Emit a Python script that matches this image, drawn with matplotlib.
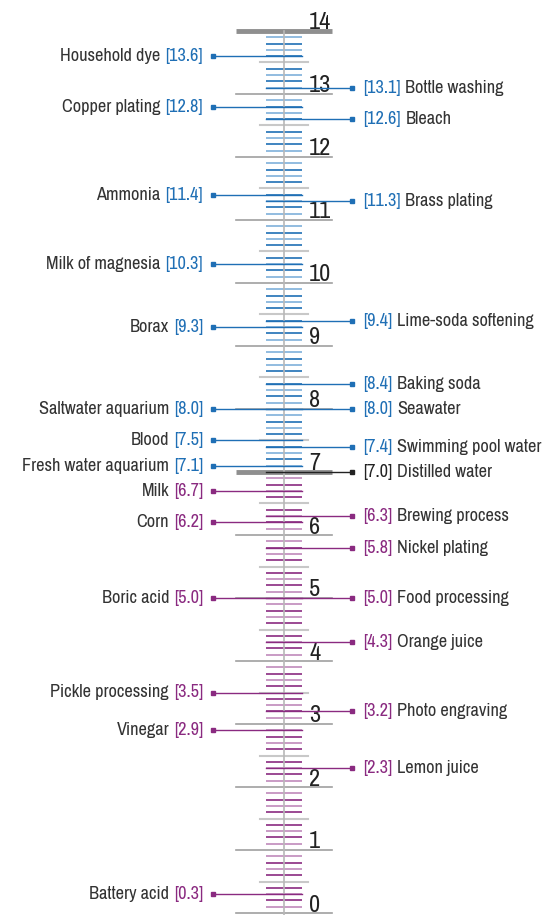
import numpy as np
from matplotlib import pyplot as plt
from matplotlib import font_manager as fm

# pH values
left_names = ["Household dye", "Copper plating", "Ammonia", "Milk of magnesia", "Borax",
              "Saltwater aquarium", "Blood", "Fresh water aquarium", "Milk", "Corn",
              "Boric acid", "Pickle processing", "Vinegar", "Battery acid"]
left_ph = [13.6, 12.8, 11.4, 10.3, 9.3, 8.0, 7.5, 7.1, 6.7, 6.2, 5.0, 3.5, 2.9, 0.3]

right_names = ["Bottle washing", "Bleach", "Brass plating", "Lime-soda softening", "Baking soda",
               "Seawater", "Swimming pool water", "Distilled water", "Brewing process",
               "Nickel plating", "Food processing", "Orange juice", "Photo engraving", "Lemon juice"]
right_ph = [13.1, 12.6, 11.3, 9.4, 8.4, 8.0, 7.4, 7.0, 6.3, 5.8, 5.0, 4.3, 3.2, 2.3]

scale_ticks = np.arange(0, 15)

BLUE = "#1f6fb5"
BLUE_L = "#7fb0da"
PURPLE = "#8a2a80"
PURPLE_L = "#c08abb"
DARK = "#222222"
TXT = "#333333"


def pick_font():
    # look for a narrow face, the reference uses a condensed sans
    for f in fm.fontManager.ttflist:
        if "Narrow" in f.name or "Condensed" in f.name:
            return dict(family=[f.name, "DejaVu Sans"], stretch=f.stretch), 1.0
    for f in fm.fontManager.ttflist:
        if str(f.stretch) in ("condensed", "semi-condensed", "extra-condensed") and f.style == "normal":
            return dict(family=[f.name, "DejaVu Sans"], stretch=f.stretch), 1.0
    return dict(family=["Roboto", "DejaVu Sans"]), 0.75


FP, SCALE = pick_font()


def col(ph):
    if ph > 7.0:
        return BLUE
    if ph < 7.0:
        return PURPLE
    return DARK


def main():
    fig = plt.figure(figsize=(5.5, 9.15), dpi=100)
    ax = fig.add_axes([0, 0, 1, 1])
    ax.set_xlim(0, 550)
    ax.set_ylim(-2 / 63, 913 / 63)
    ax.axis("off")

    fs = 13.2 * SCALE

    # minor ticks every 0.1
    for i in range(0, 140):
        v = i / 10
        if i % 5 == 0:
            continue
        if v > 7:
            c = BLUE_L if i % 2 else BLUE
        else:
            c = PURPLE_L if i % 2 else PURPLE
        ax.plot([266, 302], [v, v], color=c, lw=1.2, solid_capstyle="butt", zorder=2)

    # half units
    for k in range(14):
        ax.plot([260, 308], [k + 0.5, k + 0.5], color="#c8c8c8", lw=1.5, zorder=2)

    # integer lines and numbers
    for k in scale_ticks:
        if k in (7, 14):
            ax.plot([236, 332], [k, k], color="#8f8f8f", lw=3.5, solid_capstyle="butt", zorder=3)
        else:
            ax.plot([236, 332], [k, k], color="#a0a0a0", lw=1.2, zorder=2)
        ax.text(309, k + 1.5 / 63, str(k), ha="left", va="baseline", fontsize=17.5 * SCALE,
                color=DARK, zorder=5, **FP)

    # centre line
    ax.plot([284, 284], [14, -2 / 63], color="#b8b8b8", lw=1.2, zorder=4)

    # left labels
    for name, ph in zip(left_names, left_ph):
        c = col(ph)
        ax.plot([213, 302], [ph, ph], color=c, lw=1, zorder=6)
        ax.plot([213], [ph], marker="s", ms=2.5, color=c, zorder=7)
        vt = ax.text(203, ph, "[%.1f]" % ph, ha="right", va="center", fontsize=fs,
                     color=c, **FP)
        ax.annotate(name, xy=(0, 0.5), xycoords=vt, xytext=(-3.5, 0),
                    textcoords="offset points", ha="right", va="center",
                    fontsize=fs, color=TXT, **FP)

    # right labels
    for name, ph in zip(right_names, right_ph):
        c = col(ph)
        ax.plot([266, 352], [ph, ph], color=c, lw=1, zorder=6)
        ax.plot([352], [ph], marker="s", ms=2.5, color=c, zorder=7)
        vt = ax.text(363, ph, "[%.1f]" % ph, ha="left", va="center", fontsize=fs,
                     color=c, **FP)
        ax.annotate(name, xy=(1, 0.5), xycoords=vt, xytext=(3.5, 0),
                    textcoords="offset points", ha="left", va="center",
                    fontsize=fs, color=TXT, **FP)

    fig.savefig("out.png", dpi=100)


if __name__ == "__main__":
    main()
